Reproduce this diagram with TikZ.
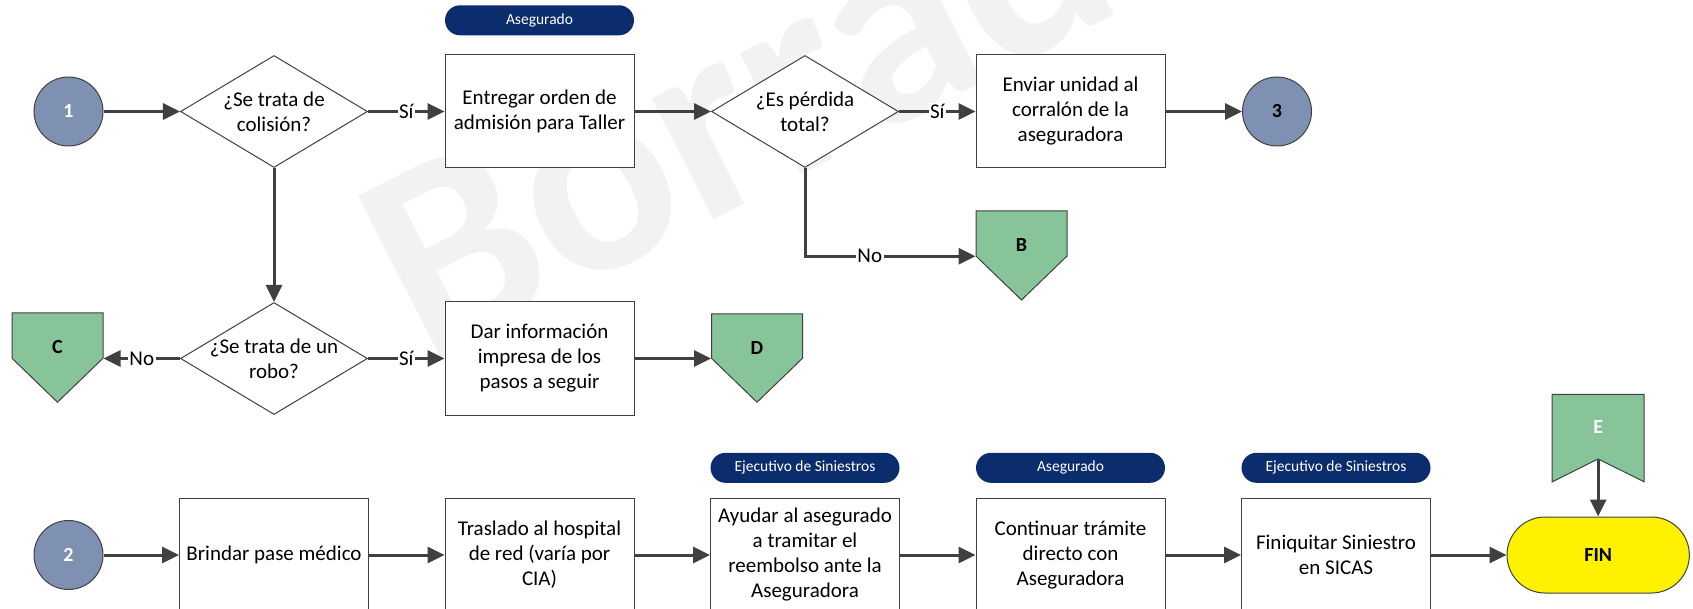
\documentclass[tikz,border=0pt]{standalone}
\usepackage{fontspec}
\setmainfont{Carlito}
\usetikzlibrary{positioning,arrows.meta,shapes.geometric,shapes.misc,shapes.symbols}

\definecolor{conector}{HTML}{7F91B3}
\definecolor{salto}{HTML}{88C49A}
\definecolor{rol}{HTML}{0B2D6E}
\definecolor{linea}{HTML}{404040}

\tikzset{
  txt/.style={font=\fontsize{21}{25}\selectfont},
  negrita/.style={font=\fontsize{20}{24}\selectfont\bfseries},
  caja/.style={draw=linea, line width=1pt, fill=white, minimum width=189pt,
    minimum height=113pt, inner sep=2pt, align=center, txt},
  decision/.style={diamond, draw=linea, line width=1pt, fill=white,
    minimum width=187pt, minimum height=112pt, inner sep=0pt, align=center, txt},
  circulo/.style={circle, draw=linea, line width=1pt, fill=conector,
    minimum size=69pt, inner sep=0pt, negrita},
  salida/.style={signal, signal to=south, signal from=nowhere,
    signal pointer angle=92, draw=linea, line width=1pt, fill=salto,
    minimum width=91pt, minimum height=50.5pt, inner sep=0pt,
    text height=36pt, text depth=0pt, negrita},
  entrada/.style={signal, signal from=south, signal to=nowhere,
    signal pointer angle=127, draw=linea, line width=1pt, fill=salto,
    minimum width=92pt, minimum height=67pt, inner sep=0pt,
    text=white, negrita},
  rolbox/.style={rounded rectangle, fill=rol, text=white, minimum width=189pt,
    minimum height=30pt, inner sep=0pt, font=\fontsize{15.5}{18}\selectfont},
  termino/.style={rounded rectangle, draw=linea, line width=1pt, fill=yellow,
    minimum width=189pt, minimum height=76pt, negrita},
  flecha/.style={draw=linea, line width=3pt, -{Triangle[length=17pt,width=16pt]}},
  etq/.style={fill=white, inner sep=1.5pt, txt},
  marca/.style={text=black!5, inner sep=0pt, font=\fontsize{280}{280}\selectfont\bfseries}
}

\newcommand{\dlinea}[1]{\makebox[0pt]{#1}}

\begin{document}
\begin{tikzpicture}[x=1pt, y=1pt, node distance=76.5pt]
  \useasboundingbox (0,0) rectangle (1693,-609);
  \node[marca, anchor=base west, rotate=27] (marca) at (426,-366) {Borrador};

  % primer renglon
  \node[circulo, text=white] (c1) at (68.5,-111.5) {1};
  \node[decision, right=of c1] (colision) {\dlinea{¿Se trata de}\\\dlinea{colisión?}};
  \node[caja, right=of colision] (entregar) {Entregar orden de\\admisión para Taller};
  \node[decision, right=of entregar] (perdida) {\dlinea{¿Es pérdida}\\\dlinea{total?}};
  \node[caja, right=of perdida] (enviar) {Enviar unidad al\\corralón de la\\aseguradora};
  \node[circulo, right=of enviar] (c3) {3};
  \node[rolbox, above=19pt of entregar] (rol1) {Asegurado};
  \node[salida, below right=42pt and 0pt of enviar.south west] (B) {B};

  % robo
  \node[decision, below=134pt of colision] (robo) {\dlinea{¿Se trata de un}\\\dlinea{robo?}};
  \node[caja, right=of robo] (dar) {Dar información\\impresa de los\\pasos a seguir};
  \node[salida, right=of dar, anchor=south west] (D) {D};
  \node[salida, left=of robo, anchor=south east] (C) {C};

  % segundo renglon
  \node[circulo, text=white, below=373.5pt of c1] (c2) {2};
  \node[caja, right=75.5pt of c2] (brindar) {Brindar pase médico};
  \node[caja, right=75.5pt of brindar] (traslado) {Traslado al hospital\\de red (varía por\\CIA)};
  \node[caja, right=75.5pt of traslado] (ayudar) {Ayudar al asegurado\\a tramitar el\\reembolso ante la\\Aseguradora};
  \node[caja, right=75.5pt of ayudar] (continuar) {Continuar trámite\\directo con\\Aseguradora};
  \node[caja, right=75.5pt of continuar] (finiquitar) {Finiquitar Siniestro\\en SICAS};
  \node[termino, right=75.5pt of finiquitar] (fin) {FIN};
  \node[rolbox, above=15pt of ayudar] (rol2) {Ejecutivo de Siniestros};
  \node[rolbox, above=15pt of continuar] (rol3) {Asegurado};
  \node[rolbox, above=15pt of finiquitar] (rol4) {Ejecutivo de Siniestros};
  \node[entrada, above=57pt of fin] (E) {E};

  \draw[flecha] (c1) -- (colision);
  \draw[flecha] (colision) -- node[etq] {Sí} (entregar);
  \draw[flecha] (entregar) -- (perdida);
  \draw[flecha] (perdida) -- node[etq] {Sí} (enviar);
  \draw[flecha] (enviar) -- (c3);
  \draw[flecha] (perdida.south) |- node[etq, pos=0.69] {No} (B.south west);
  \draw[flecha] (colision) -- (robo);
  \draw[flecha] (robo.west) -- node[etq] {No} (C.south east);
  \draw[flecha] (robo) -- node[etq] {Sí} (dar);
  \draw[flecha] (dar.east) -- (D.south west);
  \draw[flecha] (c2) -- (brindar);
  \draw[flecha] (brindar) -- (traslado);
  \draw[flecha] (traslado) -- (ayudar);
  \draw[flecha] (ayudar) -- (continuar);
  \draw[flecha] (continuar) -- (finiquitar);
  \draw[flecha] (finiquitar) -- (fin);
  \draw[flecha] (E.south) -- (fin.north);
\end{tikzpicture}
\end{document}
